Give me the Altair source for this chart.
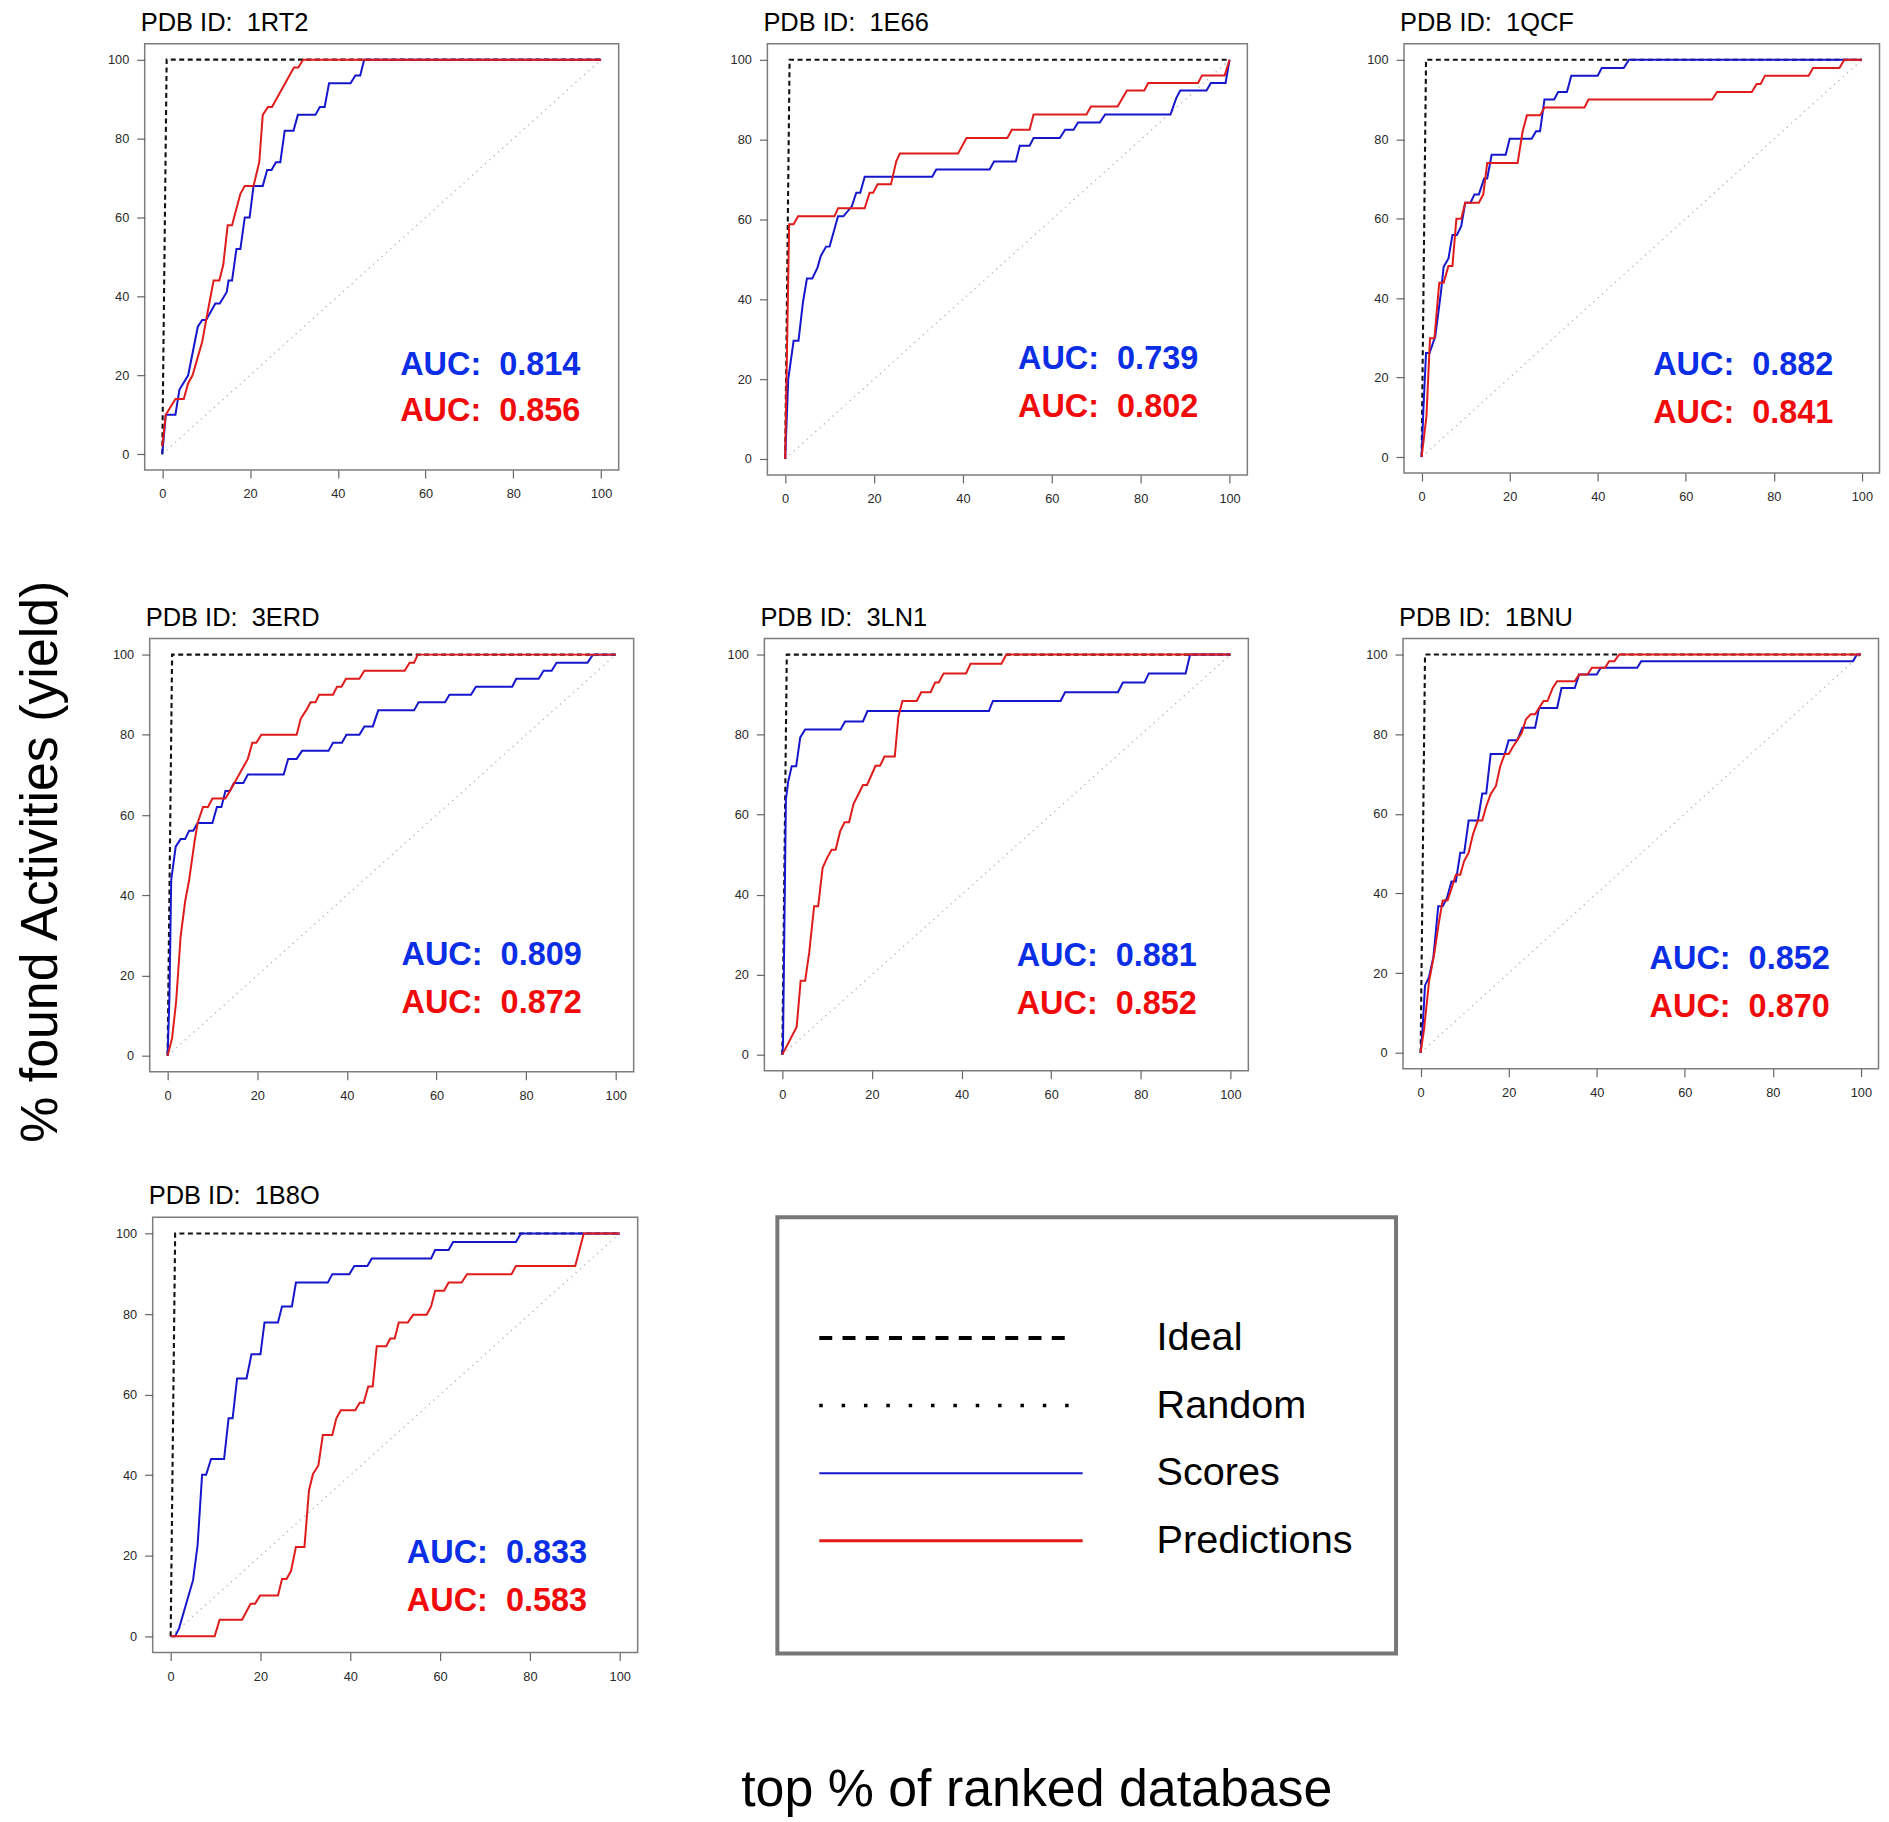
import altair as alt
import pandas as pd

# ---------------- data ----------------
PANELS = ["1RT2", "1E66", "1QCF", "3ERD", "3LN1", "1BNU", "1B8O"]
AUC_SCORES = ["0.814", "0.739", "0.882", "0.809", "0.881", "0.852", "0.833"]
AUC_PREDICTIONS = ["0.856", "0.802", "0.841", "0.872", "0.852", "0.870", "0.583"]
TICKS = [0, 20, 40, 60, 80, 100]
IDEAL = [(0, 0), (1, 100), (100, 100)]
RANDOM = [(0, 0), (100, 100)]
LEGEND_LABELS = ["Ideal", "Random", "Scores", "Predictions"]
Y_TITLE = "% found Activities (yield)"
X_TITLE = "top % of ranked database"

SCORES = {
    "1RT2": [(0, 0), (0.8, 10), (3, 10), (3.9, 16.3), (5.9, 20), (8.1, 32.3), (9.1, 34), (10, 34), (12.1, 38.2),
             (13.1, 38.2), (14.7, 41.1), (15.1, 44), (15.9, 44), (16.9, 52), (17.8, 52), (18.8, 60), (19.9, 60),
             (20.8, 68), (22.9, 68), (23.9, 72), (24.9, 72), (25.9, 74), (26.9, 74), (27.9, 82), (29.9, 82),
             (30.9, 86), (34.9, 86), (35.9, 88), (37, 88), (38, 94), (42.9, 94), (44, 96), (45.1, 96), (46, 100),
             (100, 100)],
    "1E66": [(0, 0), (0.7, 20), (1.9, 29.6), (3, 29.6), (4, 39.2), (4.9, 45.2), (6.1, 45.2), (7.3, 48), (8, 50.8),
             (9.2, 53.2), (10, 53.2), (11.9, 60.8), (13.1, 60.8), (15, 63.3), (16, 66.7), (16.9, 66.7), (17.9, 70.7),
             (33.1, 70.7), (34, 72.5), (46, 72.5), (47, 74.5), (51.9, 74.5), (52.8, 78.5), (55, 78.5), (55.9, 80.4),
             (61.8, 80.4), (63, 82.5), (64.9, 82.5), (65.9, 84.3), (70.8, 84.3), (72, 86.3), (86.7, 86.3),
             (88, 90.4), (88.9, 92.3), (94.8, 92.3), (95.8, 94.2), (99.1, 94.2), (100, 100)],
    "1QCF": [(0, 0), (0.4, 12), (1, 26.2), (1.8, 26.2), (3.1, 30.4), (4.4, 41.6), (5, 47.9), (6.1, 50), (7, 55.9),
             (8, 55.9), (9, 58.1), (9.9, 64), (11.1, 64), (12, 66.1), (13, 66.1), (14.2, 70.1), (14.9, 70.1),
             (15.9, 76.1), (19.1, 76.1), (20, 80.1), (25, 80.1), (26, 82), (26.9, 82), (27.9, 90), (30.1, 90),
             (31, 91.9), (33, 91.9), (34, 96), (40, 96), (40.9, 97.9), (45.9, 97.9), (47.1, 100), (100, 100)],
    "3ERD": [(0, 0), (0.4, 14.3), (0.8, 43.8), (1.8, 52.1), (2.9, 54), (3.9, 54), (4.8, 56.1), (5.7, 56.1),
             (6.7, 58), (10, 58), (11, 62), (12, 62), (12.9, 66), (13.9, 66), (14.8, 68), (16.9, 68), (17.9, 70.1),
             (25.9, 70.1), (26.9, 74), (28.8, 74), (30, 76), (35.9, 76), (36.9, 78), (38.9, 78), (39.9, 80),
             (42.8, 80), (43.9, 82.1), (45.8, 82.1), (47, 86.1), (55, 86.1), (56, 88.1), (61.9, 88.1), (62.9, 90),
             (67.7, 90), (68.8, 92), (76.9, 92), (77.8, 94), (82.8, 94), (83.9, 96), (85.7, 96), (86.8, 98),
             (93.7, 98), (94.9, 100), (100, 100)],
    "3LN1": [(0, 0), (0.15, 2.3), (0.8, 63.7), (1.3, 68.2), (2.1, 72.1), (3.1, 72.1), (4, 79.3), (5.1, 81.3),
             (13, 81.3), (14, 83.3), (18, 83.3), (19, 85.9), (46.1, 85.9), (47, 88.4), (62.1, 88.4), (63.1, 90.6),
             (74.9, 90.6), (76, 93), (80.8, 93), (81.8, 95.3), (90, 95.3), (91, 100), (100, 100)],
    "1BNU": [(0, 0), (0.4, 5.3), (1, 16.9), (1.9, 19), (2.9, 24), (4, 36.8), (5, 36.8), (6, 38.9), (7, 43), (8, 43),
             (9, 50.2), (9.9, 50.2), (10.9, 58.3), (13, 58.3), (14, 65.1), (14.9, 65.1), (15.9, 75), (19.1, 75),
             (20, 78.5), (21.96, 78.5), (23.1, 81.6), (26, 81.6), (26.9, 86.6), (31, 86.6), (32, 91.6), (35, 91.6),
             (36, 95), (40, 95), (40.9, 96.7), (49.2, 96.7), (50.1, 98.3), (98.2, 98.3), (99.1, 100), (100, 100)],
    "1B8O": [(0, 0), (1, 0), (1.9, 2.1), (5, 14), (6, 22.6), (7, 40.1), (7.9, 40.1), (9, 44), (11.9, 44),
             (12.9, 54.1), (13.8, 54.1), (14.8, 64), (16.9, 64), (18, 70), (20, 70), (20.9, 77.9), (23.9, 77.9),
             (24.8, 81.9), (27, 81.9), (27.9, 87.8), (35, 87.8), (36, 89.9), (39.8, 89.9), (40.9, 91.9),
             (43.8, 91.9), (44.8, 93.8), (58, 93.8), (58.9, 95.9), (61.9, 95.9), (62.9, 97.9), (76.9, 97.9),
             (78, 100), (100, 100)],
}

PREDICTIONS = {
    "1RT2": [(0, 2), (0.8, 10), (3, 14), (4.9, 14), (5.9, 18), (6.9, 20), (9.1, 28.5), (10, 34), (11.7, 44),
             (13, 44), (13.9, 48), (14.9, 58), (15.9, 58), (17.8, 66), (18.8, 68), (20.8, 68), (22.1, 74),
             (22.9, 86), (24.1, 88), (25, 88), (30, 98), (31, 98), (32.1, 100), (100, 100)],
    "1E66": [(0, 0), (0.9, 58.8), (1.9, 58.8), (2.9, 60.8), (11.1, 60.8), (11.9, 62.8), (17.9, 62.8), (19, 66.7),
             (19.8, 66.7), (20.8, 68.8), (23.8, 68.8), (25, 74.6), (25.8, 76.5), (38.9, 76.5), (40.8, 80.4),
             (50, 80.4), (51, 82.5), (55, 82.5), (55.9, 86.3), (67.8, 86.3), (68.8, 88.3), (74.8, 88.3),
             (76.9, 92.3), (80.8, 92.3), (81.7, 94.2), (92.9, 94.2), (93.8, 96.1), (98.9, 96.1), (100, 100)],
    "1QCF": [(0, 0), (1.1, 10.3), (1.9, 29.9), (2.9, 29.9), (4, 43.9), (5, 43.9), (6.1, 48.1), (7, 48.1),
             (7.9, 60), (9, 60), (9.9, 64), (13, 64), (14, 66.1), (14.9, 74), (21.8, 74), (22.95, 82), (23.9, 86),
             (26.9, 86), (27.9, 88), (37, 88), (37.9, 90), (66, 90), (67.1, 91.9), (75, 91.9), (76.1, 93.9),
             (77, 93.9), (78, 96), (87.9, 96), (88.9, 97.9), (94.9, 97.9), (96, 100), (100, 100)],
    "3ERD": [(0, 0), (1, 4.4), (1.9, 13.5), (2.9, 29.7), (3.9, 38.4), (4.8, 43.8), (6, 53.3), (6.7, 58),
             (7.9, 62), (9, 62), (10, 64.1), (12.9, 64.1), (13.9, 66), (17.9, 74), (18.9, 78), (19.8, 78),
             (20.9, 80), (28.8, 80), (29.7, 84), (30.9, 86.1), (31.9, 88.1), (33, 88.1), (33.8, 90), (36.9, 90),
             (37.8, 92), (38.8, 92), (39.8, 94), (42.8, 94), (43.9, 96), (52.9, 96), (54, 98), (55, 98),
             (55.8, 100), (100, 100)],
    "3LN1": [(0, 0), (3.2, 6.9), (4.1, 18.5), (5.1, 18.5), (6, 25.5), (7.1, 37.1), (8, 37.1), (9, 46.7),
             (10, 49.2), (11, 51.2), (11.9, 51.2), (12.9, 55.8), (13.9, 58.1), (14.9, 58.1), (15.9, 62.7),
             (16.9, 64.9), (18, 67.4), (18.9, 67.4), (19.9, 69.9), (20.8, 72.2), (21.8, 72.2), (22.8, 74.5),
             (25.1, 74.5), (25.9, 84.4), (26.8, 88.4), (30, 88.4), (31, 90.6), (33.1, 90.6), (34.1, 93),
             (34.9, 93), (36, 95.3), (41, 95.3), (42, 97.7), (48.9, 97.7), (50, 100), (100, 100)],
    "1BNU": [(0, 0), (0.8, 6.1), (1.9, 17.8), (3.1, 24.9), (4.1, 32.4), (5, 38.2), (6.1, 38.2), (7, 41.2),
             (8, 44.7), (9, 44.7), (9.9, 48.2), (10.9, 50.2), (11.9, 54.9), (13, 58.3), (14, 58.3), (14.9, 61.9),
             (15.9, 64.9), (17.1, 67), (18.1, 72), (19.1, 75), (20, 75), (21, 76.9), (21.96, 78.5), (23, 80.4),
             (23.9, 83.7), (25, 85), (26, 85), (26.9, 86.6), (27.9, 88.3), (28.8, 88.3), (30, 91.6), (31, 93.3),
             (35, 93.3), (36, 95), (37.9, 95), (38.9, 96.7), (41.9, 96.7), (42.8, 98.3), (44, 98.3), (45.1, 100),
             (100, 100)],
    "1B8O": [(0, 0), (9.8, 0), (10.9, 4.1), (15.9, 4.1), (17.8, 8.1), (18.8, 8.1), (19.9, 10.1), (23.9, 10.1),
             (24.8, 14.2), (25.8, 14.2), (26.8, 16.2), (27.9, 22.2), (29.8, 22.2), (30.8, 36.2), (31.7, 40.3),
             (32.9, 42.4), (33.9, 50), (36, 50), (36.9, 54.1), (37.9, 56.1), (41.1, 56.1), (42.1, 58), (43, 58),
             (44, 62), (45, 62), (45.9, 72), (48, 72), (48.9, 73.9), (49.9, 73.9), (50.8, 77.9), (52.8, 77.9),
             (54, 79.8), (57, 79.8), (58, 81.9), (58.9, 85.8), (60.9, 85.8), (61.9, 87.8), (64.8, 87.8),
             (66, 89.9), (75.9, 89.9), (76.9, 91.9), (90.1, 91.9), (92, 100), (100, 100)],
}

# ---------------- layout / style ----------------
FONT = "Liberation Sans"
PANEL_W = [475, 481, 476.5, 485, 485, 476.5, 486]
PANEL_H = [427, 432, 430, 434, 433, 431, 436]
# AUC label anchor in data units: x (left), blue baseline y, red baseline y
AUC_POS = [(54.2, 20.1, 8.3), (52.4, 22.5, 10.4), (52.6, 20.7, 8.6), (52.2, 22.6, 10.6),
           (52.3, 22.2, 10.2), (52.0, 21.1, 9.0), (52.6, 18.1, 6.2)]
BLUE_LINE, RED_LINE = "#1616cc", "#e01b1b"
BLUE_TEXT, RED_TEXT = "#0a2ee6", "#f00a0a"
FRAME = "#7d7d7d"
TRANSPARENT = alt.ViewBackground(stroke="transparent")


def pts(points):
    return pd.DataFrame({"x": [p[0] for p in points], "y": [p[1] for p in points],
                         "i": list(range(len(points)))})


def panel(k):
    name = PANELS[k]
    sc = alt.Scale(domain=[-4, 104], nice=False, zero=False)
    common = dict(values=TICKS, title=None, grid=False, domain=False, tickSize=8, tickColor="#666666",
                  tickWidth=1.2, labelFont=FONT, labelFontSize=12.8, labelColor="#2a2a2a",
                  labelFlush=False, labelOverlap=False)
    xax = alt.Axis(labelPadding=10, **common)
    yax = alt.Axis(labelPadding=8, labelAngle=0, **common)
    X = alt.X("x:Q", scale=sc, axis=xax)
    Y = alt.Y("y:Q", scale=sc, axis=yax)

    def line(points, **props):
        return alt.Chart(pts(points)).mark_line(**props).encode(x=X, y=Y, order=alt.Order("i:Q"))

    random = line(RANDOM, color="#b8b8b8", strokeWidth=1.4, strokeDash=[1.3, 4.5])
    ideal = line(IDEAL, color="#111111", strokeWidth=2.1, strokeDash=[5, 3.5])
    scores = line(SCORES[name], color=BLUE_LINE, strokeWidth=2)
    preds = line(PREDICTIONS[name], color=RED_LINE, strokeWidth=2)

    ax, yb, yr = AUC_POS[k]
    auc_df = pd.DataFrame({
        "x": [ax, ax],
        "y": [yb, yr],
        "label": ["AUC:\u00a0\u00a0" + AUC_SCORES[k], "AUC:\u00a0\u00a0" + AUC_PREDICTIONS[k]],
        "c": [BLUE_TEXT, RED_TEXT],
    })
    auc = alt.Chart(auc_df).mark_text(align="left", baseline="alphabetic", fontSize=32.5, fontWeight="bold",
                                      font=FONT).encode(x=X, y=Y, text="label:N",
                                                        color=alt.Color("c:N", scale=None))
    title = alt.Chart(pd.DataFrame({"t": ["PDB ID:\u00a0\u00a0" + name]})).mark_text(
        align="left", baseline="alphabetic", fontSize=25.5, font=FONT, color="#000000").encode(
        text="t:N", x=alt.value(-4), y=alt.value(-13))
    return alt.layer(random, ideal, scores, preds, auc, title).properties(width=PANEL_W[k], height=PANEL_H[k])


SPACER_DF = pd.DataFrame({"v": [0]})


def spacer(w, h):
    return alt.Chart(SPACER_DF).mark_point(opacity=0).properties(width=w, height=h, view=TRANSPARENT)


def legend_box():
    ldf = pd.DataFrame({"label": LEGEND_LABELS})
    ly = alt.Y("label:N", scale=alt.Scale(type="point", domain=LEGEND_LABELS, range=[121, 324], padding=0),
               axis=None)

    def entry(lbl, x2, **props):
        return alt.Chart(ldf).transform_filter(alt.datum.label == lbl).mark_rule(**props).encode(
            x=alt.value(42), x2=alt.value(x2), y=ly)

    ideal = entry("Ideal", 294, color="#000000", strokeWidth=4, strokeDash=[13, 10.3])
    rnd = entry("Random", 292, color="#000000", strokeWidth=3.5, strokeDash=[3.5, 18.9])
    sco = entry("Scores", 306, color=BLUE_LINE, strokeWidth=2)
    pre = entry("Predictions", 306, color=RED_LINE, strokeWidth=3)
    txt = alt.Chart(ldf).mark_text(align="left", baseline="middle", fontSize=39.7, font=FONT,
                                   color="#000000").encode(x=alt.value(380), y=ly, text="label:N")
    return alt.layer(ideal, rnd, sco, pre, txt).properties(
        width=620, height=437, view=alt.ViewBackground(stroke="#777777", strokeWidth=4))


p = [panel(k) for k in range(7)]

row1 = alt.hconcat(spacer(75.7, 560.6), p[0], spacer(148.3, 10), p[1], spacer(156.5, 10), p[2],
                   spacing=0, bounds="flush")
row2 = alt.hconcat(spacer(80.5, 544.6), p[3], spacer(131, 10), p[4], spacer(155, 10), p[5],
                   spacing=0, bounds="flush")
row3 = alt.hconcat(spacer(84, 545.6), p[6], spacer(140, 10), legend_box(),
                   spacing=0, bounds="flush")

xlab = alt.Chart(pd.DataFrame({"t": [X_TITLE]})).mark_text(
    fontSize=52, font=FONT, color="#000000", align="center", baseline="middle").encode(
    text="t:N", x=alt.value(970), y=alt.value(26)).properties(width=1800, height=52, view=TRANSPARENT)

ylab = alt.Chart(pd.DataFrame({"t": [Y_TITLE]})).mark_text(
    fontSize=52, font=FONT, color="#000000", align="center", baseline="middle", angle=270).encode(
    text="t:N", x=alt.value(32), y=alt.value(819.6)).properties(width=58, height=1600, view=TRANSPARENT)

main = alt.vconcat(row1, row2, row3, xlab, spacing=0)
chart = alt.hconcat(ylab, main, spacing=0, padding=0).configure_view(stroke=FRAME, strokeWidth=1.5)

chart.save("out.html", embed_options={"renderer": "svg", "actions": False})
